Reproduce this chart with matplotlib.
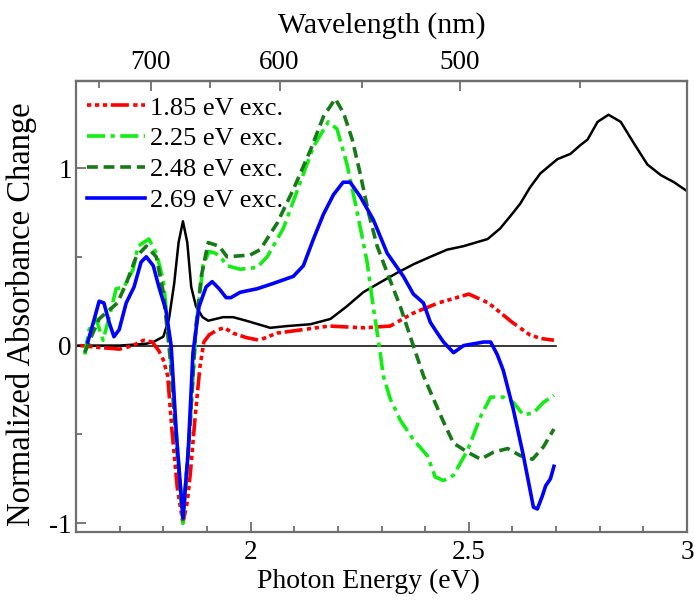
import matplotlib
matplotlib.use("Agg")
import matplotlib.pyplot as plt
import numpy as np

plt.rcParams["font.family"] = ["Liberation Serif", "DejaVu Serif"]
plt.rcParams["axes.unicode_minus"] = False

# ground-state absorption (black)
abs_e = [1.60, 1.70, 1.76, 1.777, 1.80, 1.813, 1.825, 1.835, 1.845, 1.855, 1.864, 1.875,
         1.89, 1.903, 1.937, 1.96, 1.99, 2.045, 2.084, 2.137, 2.183, 2.22, 2.258, 2.30,
         2.336, 2.375, 2.412, 2.45, 2.488, 2.543, 2.572, 2.602, 2.618, 2.64, 2.664, 2.703,
         2.733, 2.756, 2.772, 2.795, 2.82, 2.848, 2.878, 2.909, 2.94, 2.97, 3.0]
abs_v = [0.0, 0.0, 0.01, 0.02, 0.05, 0.15, 0.35, 0.58, 0.70, 0.58, 0.33, 0.22,
         0.16, 0.14, 0.16, 0.16, 0.14, 0.10, 0.11, 0.12, 0.15, 0.22, 0.30, 0.36,
         0.41, 0.46, 0.50, 0.54, 0.56, 0.60, 0.66, 0.75, 0.80, 0.89, 0.97, 1.05,
         1.08, 1.13, 1.16, 1.26, 1.30, 1.26, 1.14, 1.02, 0.96, 0.92, 0.87]

# transient absorption for each excitation energy
e185 = [1.61, 1.65, 1.70, 1.73, 1.755, 1.775, 1.79, 1.80, 1.81, 1.82, 1.832, 1.845, 1.855,
        1.862, 1.873, 1.884, 1.893, 1.905, 1.925, 1.94, 1.96, 1.99, 2.02, 2.06, 2.12, 2.18,
        2.26, 2.32, 2.37, 2.43, 2.50, 2.545, 2.60, 2.64, 2.665, 2.695]
v185 = [0.0, -0.01, -0.02, 0.0, 0.03, 0.02, -0.03, -0.08, -0.17, -0.48, -0.80, -1.0, -0.88,
        -0.72, -0.40, -0.12, 0.02, 0.06, 0.09, 0.10, 0.07, 0.045, 0.03, 0.07, 0.09, 0.11,
        0.10, 0.11, 0.18, 0.24, 0.29, 0.24, 0.13, 0.06, 0.04, 0.03]

e225 = [1.62, 1.63, 1.646, 1.662, 1.676, 1.692, 1.71, 1.731, 1.742, 1.767, 1.784, 1.80,
        1.815, 1.83, 1.845, 1.86, 1.875, 1.891, 1.905, 1.92, 1.937, 1.946, 1.976, 2.015,
        2.038, 2.075, 2.114, 2.144, 2.178, 2.198, 2.221, 2.24, 2.255, 2.267, 2.281, 2.297,
        2.304, 2.32, 2.343, 2.373, 2.405, 2.423, 2.442, 2.465, 2.497, 2.527, 2.55, 2.579,
        2.602, 2.625, 2.648, 2.671, 2.695]
v225 = [-0.05, 0.09, 0.15, 0.03, 0.16, 0.32, 0.33, 0.43, 0.56, 0.60, 0.52, 0.37,
        0.0, -0.5, -1.0, -0.5, 0.1, 0.45, 0.53, 0.52, 0.48, 0.45, 0.43, 0.44,
        0.50, 0.66, 0.92, 1.12, 1.26, 1.22, 1.02, 0.80, 0.62, 0.47, 0.22, -0.04,
        -0.17, -0.30, -0.42, -0.53, -0.62, -0.74, -0.76, -0.73, -0.59, -0.40, -0.29, -0.29,
        -0.32, -0.39, -0.38, -0.32, -0.28]

e248 = [1.62, 1.635, 1.653, 1.676, 1.695, 1.715, 1.738, 1.761, 1.784, 1.80, 1.815, 1.83,
        1.845, 1.86, 1.875, 1.887, 1.903, 1.928, 1.946, 1.999, 2.022, 2.061, 2.098, 2.137,
        2.167, 2.194, 2.213, 2.233, 2.251, 2.27, 2.29, 2.313, 2.343, 2.366, 2.396, 2.419,
        2.442, 2.465, 2.497, 2.527, 2.557, 2.589, 2.618, 2.646, 2.671, 2.695]
v248 = [-0.04, 0.05, 0.15, 0.20, 0.24, 0.35, 0.50, 0.56, 0.50, 0.30, -0.05, -0.55,
        -0.98, -0.5, 0.11, 0.39, 0.58, 0.56, 0.50, 0.51, 0.54, 0.69, 0.88, 1.10,
        1.29, 1.39, 1.31, 1.16, 0.97, 0.75, 0.56, 0.41, 0.22, 0.05, -0.17, -0.30,
        -0.43, -0.55, -0.60, -0.64, -0.60, -0.58, -0.62, -0.64, -0.57, -0.47]

e269 = [1.627, 1.642, 1.653, 1.664, 1.676, 1.687, 1.699, 1.715, 1.733, 1.749, 1.761, 1.777,
        1.79, 1.806, 1.818, 1.83, 1.845, 1.857, 1.868, 1.882, 1.898, 1.912, 1.928, 1.944,
        1.955, 1.976, 2.015, 2.052, 2.098, 2.121, 2.144, 2.167, 2.19, 2.212, 2.228, 2.251,
        2.281, 2.313, 2.35, 2.373, 2.396, 2.412, 2.428, 2.442, 2.465, 2.488, 2.534, 2.55,
        2.565, 2.579, 2.602, 2.625, 2.648, 2.657, 2.668, 2.676, 2.687, 2.695]
v269 = [0.02, 0.15, 0.25, 0.24, 0.13, 0.05, 0.09, 0.24, 0.33, 0.47, 0.50, 0.45,
        0.33, 0.20, 0.0, -0.5, -0.97, -0.6, -0.04, 0.22, 0.33, 0.36, 0.32, 0.27,
        0.27, 0.30, 0.32, 0.35, 0.39, 0.45, 0.60, 0.74, 0.85, 0.92, 0.92, 0.84,
        0.71, 0.52, 0.39, 0.29, 0.24, 0.13, 0.07, 0.02, -0.04, 0.0, 0.02, 0.02,
        -0.05, -0.14, -0.36, -0.62, -0.91, -0.92, -0.85, -0.79, -0.75, -0.68]

labels = ["1.85 eV exc.", "2.25 eV exc.", "2.48 eV exc.", "2.69 eV exc."]
top_major_nm = [700, 600, 500]
top_minor_nm = [750, 650, 550, 450]
HC = 1239.84  # eV nm

fig = plt.figure(figsize=(6.94, 6.06), dpi=100)
ax = fig.add_axes([0.1095, 0.1221, 0.8805, 0.7442])

ax.plot([1.6, 2.70], [0, 0], color="black", lw=1.1)
ax.plot(abs_e, abs_v, color="black", lw=1.8)
ax.plot(e185, v185, color="#ff0000", lw=2.6, dashes=[1.2, 1.0, 1.2, 1.0, 1.2, 1.0, 5.0, 1.2], label=labels[0])
ax.plot(e225, v225, color="#11ee11", lw=2.6, dashes=[5.0, 1.5, 1.2, 1.5], label=labels[1])
ax.plot(e248, v248, color="#167a16", lw=2.6, dashes=[3.0, 1.6], label=labels[2])
ax.plot(e269, v269, color="#0000ff", lw=2.6, label=labels[3])

ax.set_xlim(1.6, 3.0)
ax.set_ylim(-1.05, 1.49)
ax.set_xticks([2.0, 2.5, 3.0])
ax.set_xticklabels(["2", "2.5", "3"])
ax.set_xticks(np.arange(1.7, 3.0, 0.1), minor=True)
ax.set_yticks([-1, 0, 1])
ax.set_yticks([-0.5, 0.5], minor=True)

spine_c = "#6e6e6e"
for s in ax.spines.values():
    s.set_color(spine_c)
    s.set_linewidth(1.6)
ax.tick_params(which="both", direction="in", color=spine_c, labelsize=19.5, pad=6)
ax.tick_params(axis="y", pad=3)
ax.tick_params(which="major", length=7, width=1.3)
ax.tick_params(which="minor", length=4, width=1.3)

top = ax.secondary_xaxis("top", functions=(lambda e: HC / np.maximum(e, 1e-9),
                                           lambda w: HC / np.maximum(w, 1e-9)))
top.set_xticks(top_major_nm)
top.set_xticks(top_minor_nm, minor=True)
top.tick_params(which="both", direction="in", color=spine_c, labelsize=19.5, pad=4)
top.tick_params(which="major", length=7, width=1.3)
top.tick_params(which="minor", length=5, width=1.3)
top.spines["top"].set_color(spine_c)
top.spines["top"].set_linewidth(1.6)
top.set_xlabel("Wavelength (nm)", fontsize=21.5, labelpad=13)

ax.set_xlabel("Photon Energy (eV)", fontsize=20)
ax.xaxis.set_label_coords(0.478, -0.082)
ax.set_ylabel("Normalized Absorbance Change", fontsize=23.5)
ax.yaxis.set_label_coords(-0.064, 0.483)

ax.legend(loc="upper left", frameon=False, fontsize=19, handlelength=2.2,
          handletextpad=0.2, labelspacing=0.28, borderaxespad=0.0,
          bbox_to_anchor=(0.0, 0.99))

fig.savefig("out.png", dpi=100)
